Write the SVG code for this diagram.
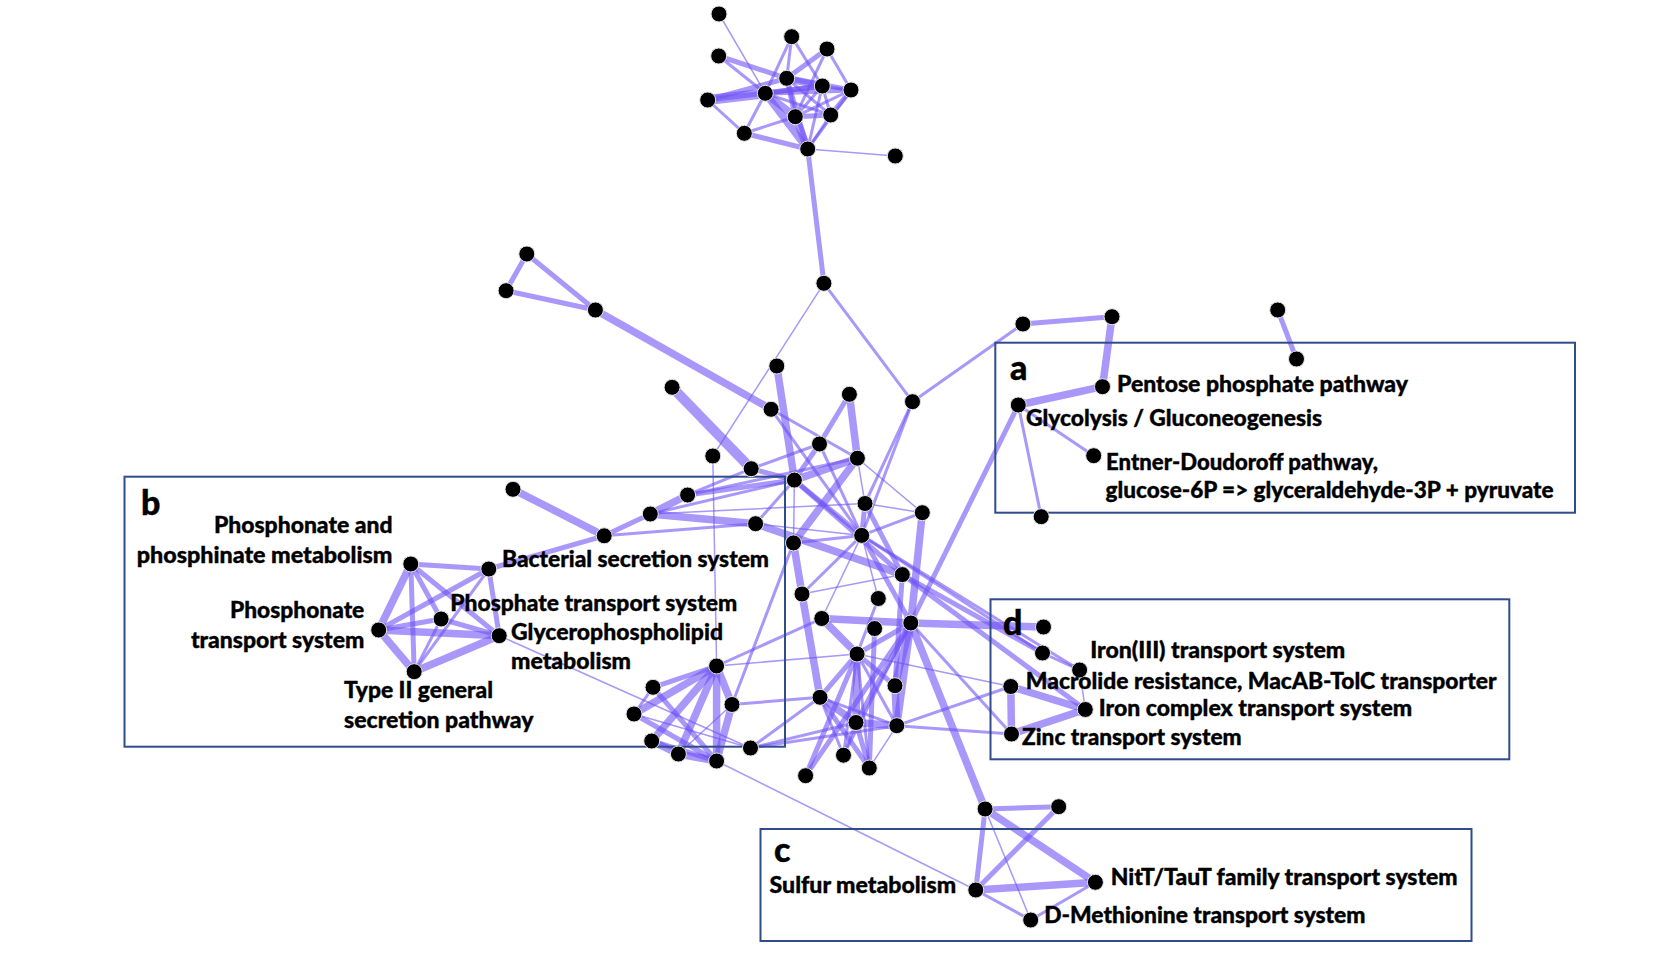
<svg xmlns="http://www.w3.org/2000/svg" width="1678" height="956" viewBox="0 0 1678 956">
<style>
.e{stroke:#6f52f5;stroke-opacity:0.6;fill:none}
.w1{stroke-width:1.5}.w2{stroke-width:3}.w3{stroke-width:5}.w4{stroke-width:7.5}.w5{stroke-width:10}
.n{fill:#000;stroke:#e6e6e6;stroke-width:1}
.box{fill:none;stroke:#2f4d8c;stroke-width:2}
.lb{font-family:Lato,"Liberation Sans",sans-serif;font-weight:900;font-size:22px;fill:#000;stroke:#000;stroke-width:0.35}
.tag{font-family:Lato,"Liberation Sans",sans-serif;font-weight:900;font-size:34px;fill:#000;stroke:#000;stroke-width:0.4}
</style>
<rect width="1678" height="956" fill="#fff"/>
<g id="connectors">
<line class="e w1" x1="719" y1="14" x2="765.3" y2="93.3"/>
<line class="e w3" x1="718.7" y1="56" x2="786.7" y2="78.3"/>
<line class="e w2" x1="718.7" y1="56" x2="765.3" y2="93.3"/>
<line class="e w5" x1="707.7" y1="100" x2="765.3" y2="93.3"/>
<line class="e w3" x1="707.7" y1="100" x2="786.7" y2="78.3"/>
<line class="e w3" x1="707.7" y1="100" x2="822.3" y2="86"/>
<line class="e w2" x1="707.7" y1="100" x2="744.3" y2="133.3"/>
<line class="e w2" x1="791.7" y1="36.7" x2="786.7" y2="78.3"/>
<line class="e w2" x1="791.7" y1="36.7" x2="765.3" y2="93.3"/>
<line class="e w2" x1="791.7" y1="36.7" x2="822.3" y2="86"/>
<line class="e w3" x1="827" y1="49" x2="786.7" y2="78.3"/>
<line class="e w2" x1="827" y1="49" x2="795.3" y2="116.7"/>
<line class="e w2" x1="827" y1="49" x2="851" y2="90"/>
<line class="e w4" x1="786.7" y1="78.3" x2="822.3" y2="86"/>
<line class="e w3" x1="786.7" y1="78.3" x2="851" y2="90"/>
<line class="e w3" x1="786.7" y1="78.3" x2="795.3" y2="116.7"/>
<line class="e w2" x1="786.7" y1="78.3" x2="830.7" y2="115"/>
<line class="e w3" x1="786.7" y1="78.3" x2="807.7" y2="149"/>
<line class="e w3" x1="765.3" y1="93.3" x2="822.3" y2="86"/>
<line class="e w3" x1="765.3" y1="93.3" x2="851" y2="90"/>
<line class="e w4" x1="765.3" y1="93.3" x2="795.3" y2="116.7"/>
<line class="e w4" x1="765.3" y1="93.3" x2="807.7" y2="149"/>
<line class="e w2" x1="765.3" y1="93.3" x2="744.3" y2="133.3"/>
<line class="e w2" x1="765.3" y1="93.3" x2="830.7" y2="115"/>
<line class="e w2" x1="822.3" y1="86" x2="851" y2="90"/>
<line class="e w2" x1="822.3" y1="86" x2="795.3" y2="116.7"/>
<line class="e w2" x1="822.3" y1="86" x2="830.7" y2="115"/>
<line class="e w2" x1="822.3" y1="86" x2="807.7" y2="149"/>
<line class="e w3" x1="851" y1="90" x2="830.7" y2="115"/>
<line class="e w2" x1="851" y1="90" x2="795.3" y2="116.7"/>
<line class="e w2" x1="851" y1="90" x2="807.7" y2="149"/>
<line class="e w4" x1="795.3" y1="116.7" x2="807.7" y2="149"/>
<line class="e w3" x1="795.3" y1="116.7" x2="830.7" y2="115"/>
<line class="e w2" x1="830.7" y1="115" x2="807.7" y2="149"/>
<line class="e w3" x1="744.3" y1="133.3" x2="807.7" y2="149"/>
<line class="e w2" x1="744.3" y1="133.3" x2="795.3" y2="116.7"/>
<line class="e w1" x1="807.7" y1="149" x2="895.3" y2="156"/>
<line class="e w3" x1="807.7" y1="149" x2="823.9" y2="283.3"/>
<line class="e w1" x1="823.9" y1="283.3" x2="712.8" y2="456"/>
<line class="e w2" x1="823.9" y1="283.3" x2="912.5" y2="401.7"/>
<line class="e w3" x1="526.8" y1="254" x2="506.1" y2="290.7"/>
<line class="e w3" x1="526.8" y1="254" x2="595.4" y2="310"/>
<line class="e w3" x1="506.1" y1="290.7" x2="595.4" y2="310"/>
<line class="e w4" x1="595.4" y1="310" x2="771.1" y2="409.3"/>
<line class="e w2" x1="1022.9" y1="324" x2="912.5" y2="401.7"/>
<line class="e w3" x1="1022.9" y1="324" x2="1112" y2="316.7"/>
<line class="e w4" x1="1112" y1="316.7" x2="1102.5" y2="386.7"/>
<line class="e w4" x1="1102.5" y1="386.7" x2="1018.3" y2="405"/>
<line class="e w2" x1="1018.3" y1="405" x2="1093.7" y2="455.7"/>
<line class="e w2" x1="1018.3" y1="405" x2="1041.2" y2="516.7"/>
<line class="e w3" x1="1018.3" y1="405" x2="910.8" y2="623"/>
<line class="e w3" x1="1277.7" y1="310" x2="1296.5" y2="359"/>
<line class="e w5" x1="672.1" y1="387.3" x2="751.2" y2="468.7"/>
<line class="e w4" x1="776.8" y1="366" x2="794.4" y2="480.1"/>
<line class="e w2" x1="771.1" y1="409.3" x2="857.4" y2="458.2"/>
<line class="e w2" x1="771.1" y1="409.3" x2="861.7" y2="535.4"/>
<line class="e w3" x1="849.4" y1="394.3" x2="819.5" y2="444"/>
<line class="e w3" x1="819.5" y1="444" x2="794.4" y2="480.1"/>
<line class="e w4" x1="849.4" y1="394.3" x2="857.4" y2="458.2"/>
<line class="e w2" x1="912.5" y1="401.7" x2="865" y2="503.5"/>
<line class="e w2" x1="912.5" y1="401.7" x2="861.7" y2="535.4"/>
<line class="e w2" x1="819.5" y1="444" x2="861.7" y2="535.4"/>
<line class="e w2" x1="819.5" y1="444" x2="751.2" y2="468.7"/>
<line class="e w2" x1="751.2" y1="468.7" x2="687.6" y2="495"/>
<line class="e w3" x1="751.2" y1="468.7" x2="794.4" y2="480.1"/>
<line class="e w3" x1="687.6" y1="495" x2="794.4" y2="480.1"/>
<line class="e w2" x1="687.6" y1="495" x2="857.4" y2="458.2"/>
<line class="e w4" x1="687.6" y1="495" x2="650.3" y2="514"/>
<line class="e w3" x1="650.3" y1="514" x2="604.2" y2="535.8"/>
<line class="e w4" x1="650.3" y1="514" x2="755.6" y2="523.7"/>
<line class="e w2" x1="650.3" y1="514" x2="794.4" y2="480.1"/>
<line class="e w1" x1="650.3" y1="514" x2="865" y2="503.5"/>
<line class="e w4" x1="513" y1="489.3" x2="604.2" y2="535.8"/>
<line class="e w2" x1="604.2" y1="535.8" x2="755.6" y2="523.7"/>
<line class="e w3" x1="604.2" y1="535.8" x2="488.8" y2="569"/>
<line class="e w2" x1="755.6" y1="523.7" x2="794.4" y2="480.1"/>
<line class="e w4" x1="755.6" y1="523.7" x2="902.3" y2="574.6"/>
<line class="e w1" x1="755.6" y1="523.7" x2="861.7" y2="535.4"/>
<line class="e w4" x1="793.5" y1="542.9" x2="857.4" y2="458.2"/>
<line class="e w1" x1="794.4" y1="480.1" x2="793.5" y2="542.9"/>
<line class="e w4" x1="794.4" y1="480.1" x2="857.4" y2="458.2"/>
<line class="e w3" x1="794.4" y1="480.1" x2="861.7" y2="535.4"/>
<line class="e w3" x1="794.4" y1="480.1" x2="902.3" y2="574.6"/>
<line class="e w1" x1="857.4" y1="458.2" x2="865" y2="503.5"/>
<line class="e w1" x1="857.4" y1="458.2" x2="922.3" y2="512.7"/>
<line class="e w3" x1="865" y1="503.5" x2="861.7" y2="535.4"/>
<line class="e w1" x1="865" y1="503.5" x2="922.3" y2="512.7"/>
<line class="e w3" x1="865" y1="503.5" x2="902.3" y2="574.6"/>
<line class="e w2" x1="922.3" y1="512.7" x2="861.7" y2="535.4"/>
<line class="e w4" x1="922.3" y1="512.7" x2="910.8" y2="623"/>
<line class="e w2" x1="861.7" y1="535.4" x2="802" y2="594"/>
<line class="e w1" x1="861.7" y1="535.4" x2="878.3" y2="598.5"/>
<line class="e w1" x1="861.7" y1="535.4" x2="821.8" y2="618.5"/>
<line class="e w3" x1="861.7" y1="535.4" x2="910.8" y2="623"/>
<line class="e w4" x1="793.5" y1="542.9" x2="802" y2="594"/>
<line class="e w2" x1="793.5" y1="542.9" x2="861.7" y2="535.4"/>
<line class="e w1" x1="802" y1="594" x2="902.3" y2="574.6"/>
<line class="e w4" x1="802" y1="594" x2="820" y2="697.3"/>
<line class="e w4" x1="821.8" y1="618.5" x2="910.8" y2="623"/>
<line class="e w4" x1="821.8" y1="618.5" x2="857.1" y2="654"/>
<line class="e w3" x1="910.8" y1="623" x2="857.1" y2="654"/>
<line class="e w4" x1="910.8" y1="623" x2="895" y2="685.7"/>
<line class="e w3" x1="910.8" y1="623" x2="856" y2="722.5"/>
<line class="e w4" x1="910.8" y1="623" x2="896.8" y2="725.7"/>
<line class="e w2" x1="910.8" y1="623" x2="843.5" y2="755.2"/>
<line class="e w3" x1="910.8" y1="623" x2="805.6" y2="775.7"/>
<line class="e w4" x1="910.8" y1="623" x2="985.1" y2="809"/>
<line class="e w4" x1="910.8" y1="623" x2="1043.5" y2="627"/>
<line class="e w3" x1="902.3" y1="574.6" x2="1042.5" y2="653"/>
<line class="e w3" x1="902.3" y1="574.6" x2="1085.3" y2="709.5"/>
<line class="e w3" x1="902.3" y1="574.6" x2="895" y2="685.7"/>
<line class="e w2" x1="861.7" y1="535.4" x2="1079.6" y2="670"/>
<line class="e w2" x1="861.7" y1="535.4" x2="1042.5" y2="653"/>
<line class="e w1" x1="857.1" y1="654" x2="1010.8" y2="686.5"/>
<line class="e w2" x1="896.8" y1="725.7" x2="1010.8" y2="686.5"/>
<line class="e w2" x1="896.8" y1="725.7" x2="1011.5" y2="734"/>
<line class="e w2" x1="910.8" y1="623" x2="1011.5" y2="734"/>
<line class="e w2" x1="1042.5" y1="653" x2="1079.6" y2="670"/>
<line class="e w1" x1="1079.6" y1="670" x2="1085.3" y2="709.5"/>
<line class="e w4" x1="1010.8" y1="686.5" x2="1085.3" y2="709.5"/>
<line class="e w4" x1="1010.8" y1="686.5" x2="1011.5" y2="734"/>
<line class="e w4" x1="1011.5" y1="734" x2="1085.3" y2="709.5"/>
<line class="e w4" x1="857.1" y1="654" x2="856" y2="722.5"/>
<line class="e w3" x1="857.1" y1="654" x2="820" y2="697.3"/>
<line class="e w3" x1="857.1" y1="654" x2="895" y2="685.7"/>
<line class="e w2" x1="857.1" y1="654" x2="843.5" y2="755.2"/>
<line class="e w2" x1="857.1" y1="654" x2="869.3" y2="768"/>
<line class="e w2" x1="857.1" y1="654" x2="896.8" y2="725.7"/>
<line class="e w4" x1="895" y1="685.7" x2="896.8" y2="725.7"/>
<line class="e w4" x1="820" y1="697.3" x2="856" y2="722.5"/>
<line class="e w2" x1="820" y1="697.3" x2="896.8" y2="725.7"/>
<line class="e w3" x1="820" y1="697.3" x2="869.3" y2="768"/>
<line class="e w2" x1="820" y1="697.3" x2="843.5" y2="755.2"/>
<line class="e w4" x1="856" y1="722.5" x2="896.8" y2="725.7"/>
<line class="e w3" x1="856" y1="722.5" x2="869.3" y2="768"/>
<line class="e w2" x1="856" y1="722.5" x2="843.5" y2="755.2"/>
<line class="e w1" x1="896.8" y1="725.7" x2="869.3" y2="768"/>
<line class="e w3" x1="874.6" y1="628.5" x2="869.3" y2="768"/>
<line class="e w3" x1="805.6" y1="775.7" x2="857.1" y2="654"/>
<line class="e w2" x1="878.3" y1="598.5" x2="857.1" y2="654"/>
<line class="e w1" x1="712.8" y1="456" x2="716.6" y2="666"/>
<line class="e w3" x1="716.6" y1="666" x2="653" y2="687.3"/>
<line class="e w4" x1="716.6" y1="666" x2="634" y2="714"/>
<line class="e w4" x1="716.6" y1="666" x2="651.7" y2="741"/>
<line class="e w4" x1="716.6" y1="666" x2="678.4" y2="754"/>
<line class="e w4" x1="716.6" y1="666" x2="716.6" y2="761"/>
<line class="e w4" x1="716.6" y1="666" x2="732" y2="704.5"/>
<line class="e w2" x1="716.6" y1="666" x2="821.8" y2="618.5"/>
<line class="e w1" x1="716.6" y1="666" x2="857.1" y2="654"/>
<line class="e w3" x1="653" y1="687.3" x2="716.6" y2="761"/>
<line class="e w2" x1="653" y1="687.3" x2="634" y2="714"/>
<line class="e w3" x1="634" y1="714" x2="716.6" y2="761"/>
<line class="e w1" x1="634" y1="714" x2="750.5" y2="748"/>
<line class="e w4" x1="651.7" y1="741" x2="678.4" y2="754"/>
<line class="e w4" x1="678.4" y1="754" x2="716.6" y2="761"/>
<line class="e w3" x1="651.7" y1="741" x2="716.6" y2="761"/>
<line class="e w4" x1="732" y1="704.5" x2="716.6" y2="761"/>
<line class="e w1" x1="732" y1="704.5" x2="678.4" y2="754"/>
<line class="e w2" x1="732" y1="704.5" x2="820" y2="697.3"/>
<line class="e w2" x1="732" y1="704.5" x2="793.5" y2="542.9"/>
<line class="e w1" x1="716.6" y1="761" x2="975.8" y2="890"/>
<line class="e w2" x1="750.5" y1="748" x2="820" y2="697.3"/>
<line class="e w2" x1="750.5" y1="748" x2="896.8" y2="725.7"/>
<line class="e w2" x1="750.5" y1="748" x2="856" y2="722.5"/>
<line class="e w1" x1="499.2" y1="635.7" x2="750.5" y2="748"/>
<line class="e w3" x1="410.8" y1="564" x2="488.8" y2="569"/>
<line class="e w4" x1="410.8" y1="564" x2="378.7" y2="630"/>
<line class="e w3" x1="410.8" y1="564" x2="441.1" y2="619"/>
<line class="e w3" x1="410.8" y1="564" x2="499.2" y2="635.7"/>
<line class="e w3" x1="410.8" y1="564" x2="414.2" y2="671.7"/>
<line class="e w3" x1="488.8" y1="569" x2="378.7" y2="630"/>
<line class="e w3" x1="488.8" y1="569" x2="499.2" y2="635.7"/>
<line class="e w2" x1="488.8" y1="569" x2="414.2" y2="671.7"/>
<line class="e w3" x1="378.7" y1="630" x2="441.1" y2="619"/>
<line class="e w4" x1="378.7" y1="630" x2="499.2" y2="635.7"/>
<line class="e w4" x1="378.7" y1="630" x2="414.2" y2="671.7"/>
<line class="e w3" x1="441.1" y1="619" x2="499.2" y2="635.7"/>
<line class="e w2" x1="441.1" y1="619" x2="414.2" y2="671.7"/>
<line class="e w4" x1="499.2" y1="635.7" x2="414.2" y2="671.7"/>
<line class="e w3" x1="985.1" y1="809" x2="1058.7" y2="806.7"/>
<line class="e w4" x1="985.1" y1="809" x2="1095.4" y2="882.3"/>
<line class="e w3" x1="985.1" y1="809" x2="975.8" y2="890"/>
<line class="e w1" x1="985.1" y1="809" x2="1030.7" y2="920"/>
<line class="e w3" x1="1058.7" y1="806.7" x2="975.8" y2="890"/>
<line class="e w4" x1="975.8" y1="890" x2="1095.4" y2="882.3"/>
<line class="e w2" x1="975.8" y1="890" x2="1030.7" y2="920"/>
<line class="e w2" x1="1095.4" y1="882.3" x2="1030.7" y2="920"/>
</g>
<g id="boxes">
<rect id="box-a" class="box" x="995.3" y="342.7" width="579.7" height="170"/>
<rect id="box-b" class="box" x="124.5" y="476.7" width="660.5" height="270"/>
<rect id="box-c" class="box" x="760.5" y="829" width="711" height="112"/>
<rect id="box-d" class="box" x="990.5" y="599.3" width="518.8" height="160"/>
</g>
<g id="nodes">
<g id="t1"><circle class="n" cx="719" cy="14" r="8"/></g>
<g id="t2"><circle class="n" cx="791.7" cy="36.7" r="8"/></g>
<g id="t3"><circle class="n" cx="827" cy="49" r="8"/></g>
<g id="t4"><circle class="n" cx="718.7" cy="56" r="8"/></g>
<g id="t5"><circle class="n" cx="786.7" cy="78.3" r="8"/></g>
<g id="t6"><circle class="n" cx="822.3" cy="86" r="8"/></g>
<g id="t7"><circle class="n" cx="851" cy="90" r="8"/></g>
<g id="t8"><circle class="n" cx="765.3" cy="93.3" r="8"/></g>
<g id="t9"><circle class="n" cx="707.7" cy="100" r="8"/></g>
<g id="t10"><circle class="n" cx="795.3" cy="116.7" r="8"/></g>
<g id="t11"><circle class="n" cx="830.7" cy="115" r="8"/></g>
<g id="t12"><circle class="n" cx="744.3" cy="133.3" r="8"/></g>
<g id="t13"><circle class="n" cx="807.7" cy="149" r="8"/></g>
<g id="t14"><circle class="n" cx="895.3" cy="156" r="8"/></g>
<g id="hub"><circle class="n" cx="823.9" cy="283.3" r="8"/></g>
<g id="a1"><circle class="n" cx="526.8" cy="254" r="8"/></g>
<g id="a2"><circle class="n" cx="506.1" cy="290.7" r="8"/></g>
<g id="a3"><circle class="n" cx="595.4" cy="310" r="8"/></g>
<g id="nB"><circle class="n" cx="776.8" cy="366" r="8"/></g>
<g id="nC"><circle class="n" cx="1022.9" cy="324" r="8"/></g>
<g id="nD"><circle class="n" cx="912.5" cy="401.7" r="8"/></g>
<g id="nE"><circle class="n" cx="672.1" cy="387.3" r="8"/></g>
<g id="nF"><circle class="n" cx="771.1" cy="409.3" r="8"/></g>
<g id="nG"><circle class="n" cx="849.4" cy="394.3" r="8"/></g>
<g id="nH"><circle class="n" cx="819.5" cy="444" r="8"/></g>
<g id="nI"><circle class="n" cx="857.4" cy="458.2" r="8"/></g>
<g id="nJ"><circle class="n" cx="712.8" cy="456" r="8"/></g>
<g id="nK"><circle class="n" cx="751.2" cy="468.7" r="8"/></g>
<g id="nL"><circle class="n" cx="794.4" cy="480.1" r="8"/></g>
<g id="nM"><circle class="n" cx="865" cy="503.5" r="8"/></g>
<g id="nN"><circle class="n" cx="922.3" cy="512.7" r="8"/></g>
<g id="nO"><circle class="n" cx="513" cy="489.3" r="8"/></g>
<g id="nP"><circle class="n" cx="687.6" cy="495" r="8"/></g>
<g id="nQ"><circle class="n" cx="650.3" cy="514" r="8"/></g>
<g id="nR"><circle class="n" cx="755.6" cy="523.7" r="8"/></g>
<g id="nS"><circle class="n" cx="604.2" cy="535.8" r="8"/></g>
<g id="nT"><circle class="n" cx="861.7" cy="535.4" r="8"/></g>
<g id="nU"><circle class="n" cx="793.5" cy="542.9" r="8"/></g>
<g id="nV"><circle class="n" cx="902.3" cy="574.6" r="8"/></g>
<g id="nW"><circle class="n" cx="802" cy="594" r="8"/></g>
<g id="nX"><circle class="n" cx="878.3" cy="598.5" r="8"/></g>
<g id="nY"><circle class="n" cx="821.8" cy="618.5" r="8"/></g>
<g id="nZ"><circle class="n" cx="910.8" cy="623" r="8"/></g>
<g id="nAA"><circle class="n" cx="874.6" cy="628.5" r="8"/></g>
<g id="nAB"><circle class="n" cx="857.1" cy="654" r="8"/></g>
<g id="nAC"><circle class="n" cx="895" cy="685.7" r="8"/></g>
<g id="nAD"><circle class="n" cx="820" cy="697.3" r="8"/></g>
<g id="nAE"><circle class="n" cx="856" cy="722.5" r="8"/></g>
<g id="nAF"><circle class="n" cx="896.8" cy="725.7" r="8"/></g>
<g id="nAG"><circle class="n" cx="843.5" cy="755.2" r="8"/></g>
<g id="nAH"><circle class="n" cx="869.3" cy="768" r="8"/></g>
<g id="nAI"><circle class="n" cx="805.6" cy="775.7" r="8"/></g>
<g id="lc1"><circle class="n" cx="716.6" cy="666" r="8"/></g>
<g id="lc2"><circle class="n" cx="653" cy="687.3" r="8"/></g>
<g id="lc3"><circle class="n" cx="732" cy="704.5" r="8"/></g>
<g id="lc4"><circle class="n" cx="634" cy="714" r="8"/></g>
<g id="lc5"><circle class="n" cx="651.7" cy="741" r="8"/></g>
<g id="lc6"><circle class="n" cx="678.4" cy="754" r="8"/></g>
<g id="lc7"><circle class="n" cx="716.6" cy="761" r="8"/></g>
<g id="lc8"><circle class="n" cx="750.5" cy="748" r="8"/></g>
<g id="phosphonate-phosphinate"><circle class="n" cx="410.8" cy="564" r="8"/></g>
<g id="bacterial-secretion"><circle class="n" cx="488.8" cy="569" r="8"/></g>
<g id="phosphonate-transport"><circle class="n" cx="378.7" cy="630" r="8"/></g>
<g id="phosphate-transport"><circle class="n" cx="441.1" cy="619" r="8"/></g>
<g id="glycerophospholipid"><circle class="n" cx="499.2" cy="635.7" r="8"/></g>
<g id="type2-secretion"><circle class="n" cx="414.2" cy="671.7" r="8"/></g>
<g id="a-top"><circle class="n" cx="1112" cy="316.7" r="8"/></g>
<g id="pentose"><circle class="n" cx="1102.5" cy="386.7" r="8"/></g>
<g id="glycolysis"><circle class="n" cx="1018.3" cy="405" r="8"/></g>
<g id="entner"><circle class="n" cx="1093.7" cy="455.7" r="8"/></g>
<g id="a-bottom"><circle class="n" cx="1041.2" cy="516.7" r="8"/></g>
<g id="tr1"><circle class="n" cx="1277.7" cy="310" r="8"/></g>
<g id="tr2"><circle class="n" cx="1296.5" cy="359" r="8"/></g>
<g id="d1"><circle class="n" cx="1043.5" cy="627" r="8"/></g>
<g id="iron3"><circle class="n" cx="1042.5" cy="653" r="8"/></g>
<g id="d3"><circle class="n" cx="1079.6" cy="670" r="8"/></g>
<g id="macrolide"><circle class="n" cx="1010.8" cy="686.5" r="8"/></g>
<g id="iron-complex"><circle class="n" cx="1085.3" cy="709.5" r="8"/></g>
<g id="zinc"><circle class="n" cx="1011.5" cy="734" r="8"/></g>
<g id="c1"><circle class="n" cx="985.1" cy="809" r="8"/></g>
<g id="c2"><circle class="n" cx="1058.7" cy="806.7" r="8"/></g>
<g id="sulfur"><circle class="n" cx="975.8" cy="890" r="8"/></g>
<g id="nitt"><circle class="n" cx="1095.4" cy="882.3" r="8"/></g>
<g id="dmet"><circle class="n" cx="1030.7" cy="920" r="8"/></g>
</g>
<g id="labels">
<text class="tag" x="1010" y="380">a</text>
<text class="tag" x="141" y="515">b</text>
<text class="tag" x="774" y="862">c</text>
<text class="tag" x="1003" y="635">d</text>
<text class="lb" x="1117" y="391.5" textLength="291" lengthAdjust="spacingAndGlyphs">Pentose phosphate pathway</text>
<text class="lb" x="1026" y="426" textLength="296" lengthAdjust="spacingAndGlyphs">Glycolysis / Gluconeogenesis</text>
<text class="lb" x="1106" y="470" textLength="272" lengthAdjust="spacingAndGlyphs">Entner-Doudoroff pathway,</text>
<text class="lb" x="1105.5" y="498" textLength="448" lengthAdjust="spacingAndGlyphs">glucose-6P =&gt; glyceraldehyde-3P + pyruvate</text>
<text class="lb" x="213.9" y="532.7" textLength="178.6" lengthAdjust="spacingAndGlyphs">Phosphonate and</text>
<text class="lb" x="136.7" y="562.7" textLength="255.8" lengthAdjust="spacingAndGlyphs">phosphinate metabolism</text>
<text class="lb" x="502" y="567.3" textLength="267" lengthAdjust="spacingAndGlyphs">Bacterial secretion system</text>
<text class="lb" x="230" y="617.7" textLength="134.3" lengthAdjust="spacingAndGlyphs">Phosphonate</text>
<text class="lb" x="190.9" y="647.7" textLength="173.4" lengthAdjust="spacingAndGlyphs">transport system</text>
<text class="lb" x="450.2" y="610.7" textLength="287" lengthAdjust="spacingAndGlyphs">Phosphate transport system</text>
<text class="lb" x="511" y="640" textLength="212" lengthAdjust="spacingAndGlyphs">Glycerophospholipid</text>
<text class="lb" x="511" y="669.3" textLength="120" lengthAdjust="spacingAndGlyphs">metabolism</text>
<text class="lb" x="344" y="697.7" textLength="149" lengthAdjust="spacingAndGlyphs">Type II general</text>
<text class="lb" x="344" y="727.7" textLength="189.5" lengthAdjust="spacingAndGlyphs">secretion pathway</text>
<text class="lb" x="1090.2" y="658" textLength="255" lengthAdjust="spacingAndGlyphs">Iron(III) transport system</text>
<text class="lb" x="1025.8" y="689" textLength="470.7" lengthAdjust="spacingAndGlyphs">Macrolide resistance, MacAB-TolC transporter</text>
<text class="lb" x="1098.8" y="716" textLength="313.4" lengthAdjust="spacingAndGlyphs">Iron complex transport system</text>
<text class="lb" x="1022" y="745" textLength="219.7" lengthAdjust="spacingAndGlyphs">Zinc transport system</text>
<text class="lb" x="769.6" y="893" textLength="186.6" lengthAdjust="spacingAndGlyphs">Sulfur metabolism</text>
<text class="lb" x="1110.8" y="885" textLength="346.8" lengthAdjust="spacingAndGlyphs">NitT/TauT family transport system</text>
<text class="lb" x="1044.2" y="923.3" textLength="321.3" lengthAdjust="spacingAndGlyphs">D-Methionine transport system</text>
</g>
</svg>
